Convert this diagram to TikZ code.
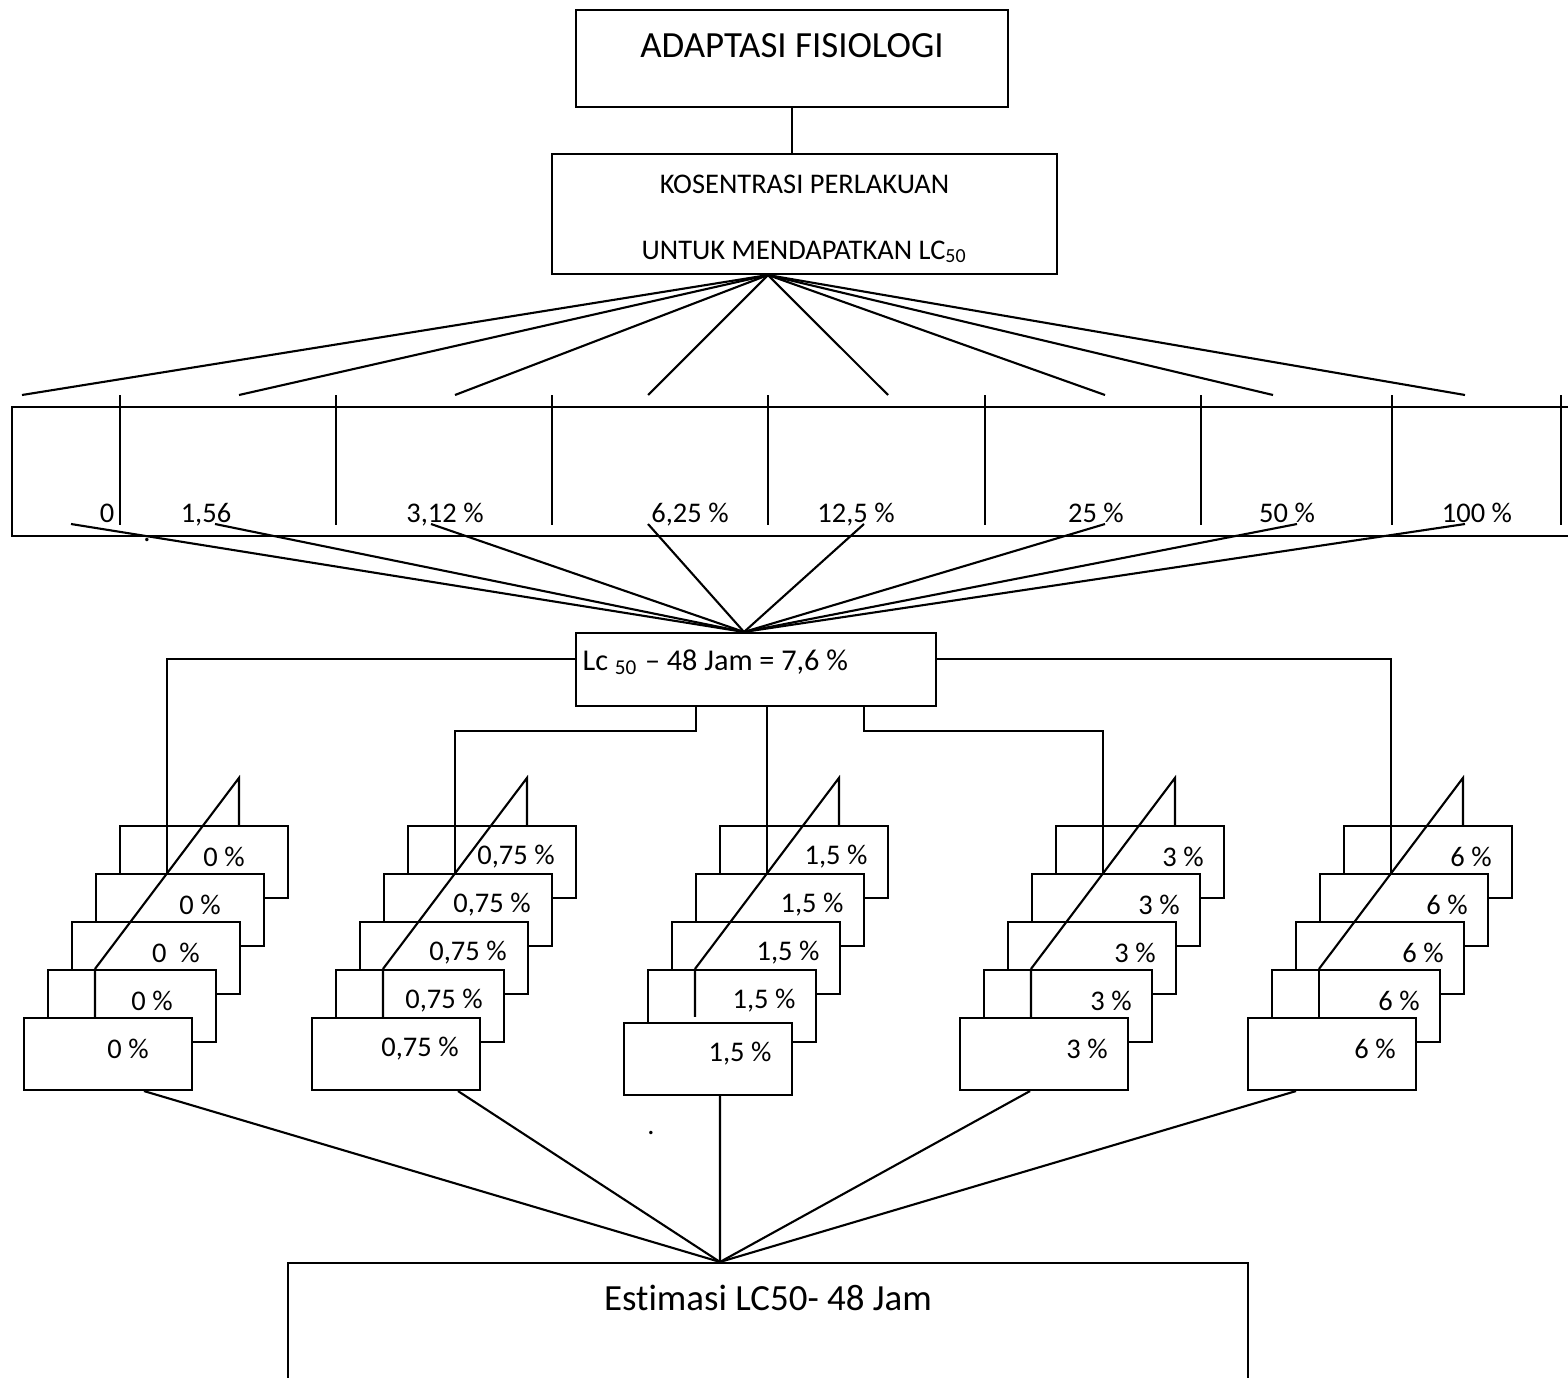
\documentclass[tikz,border=0pt]{standalone}
\usepackage{fontspec}
\setmainfont{Carlito}[Ligatures=NoCommon]
\usetikzlibrary{calc}

\begin{document}
\begin{tikzpicture}[every node/.style={font=\fontsize{8.1}{10}\selectfont}]
\tikzset{kotak/.style={draw,semithick,fill=white,inner sep=0pt},
  dosis/.style={kotak,minimum width=1.68cm,minimum height=0.72cm},
  teks/.style={inner sep=0pt,font=\fontsize{8.1}{10}\selectfont},
  besar/.style={inner sep=0pt,font=\fontsize{10.5}{12}\selectfont}}

\useasboundingbox (0,0) rectangle (15.68,-13.77);
\clip (0,0) rectangle (15.68,-13.77);

% kotak atas
\node[kotak,minimum width=4.32cm,minimum height=0.97cm,
      label={[besar,yshift=0.125cm]center:ADAPTASI FISIOLOGI}] (adp) at (7.92,-0.585) {};
\node[kotak,minimum width=5.05cm,minimum height=1.20cm,
      label={[teks,yshift=0.30cm]center:KOSENTRASI PERLAKUAN},
      label={[teks,yshift=-0.38cm]center:UNTUK MENDAPATKAN LC\textsubscript{50}}] (kos) at (8.045,-2.14) {};
\draw[semithick] (adp.south) -- (adp.south |- kos.north);

% pita konsentrasi
\node[kotak,minimum width=15.80cm,minimum height=1.29cm] (pita) at (8.02,-4.715) {};
\foreach \x in {1.20,3.36,5.52,7.68,9.85,12.01,13.92,15.61}
  \draw[semithick] (\x,-3.95) -- (\x,-5.25);
\node[teks,anchor=base] (p0)   at (1.07,-5.22)  {0};
\node[teks,anchor=base] (p156) at (2.06,-5.22)  {1,56};
\node[teks,anchor=base] (p312) at (4.45,-5.22)  {3,12 \%};
\node[teks,anchor=base] (p625) at (6.90,-5.22)  {6,25 \%};
\node[teks,anchor=base] (p125) at (8.56,-5.22)  {12,5 \%};
\node[teks,anchor=base] (p25)  at (10.96,-5.22) {25 \%};
\node[teks,anchor=base] (p50)  at (12.87,-5.22) {50 \%};
\node[teks,anchor=base] (p100) at (14.77,-5.22) {100 \%};
\node[teks] (titik1) at (1.47,-5.40) {.};

\coordinate (kp) at ($(kos.south)+(-0.365,0)$);
\foreach \x [count=\i] in {0.22,2.39,4.55,6.48,8.88,11.05,12.73,14.65} {
  \coordinate (ka\i) at (\x,-3.95);
  \draw[semithick] (kp) -- (ka\i);
}

% LC50
\node[kotak,minimum width=3.60cm,minimum height=0.73cm,
      label={[teks,anchor=west,xshift=0.07cm,yshift=0.07cm,font=\fontsize{8.6}{10}\selectfont]west:Lc \textsubscript{50} -- 48 Jam = 7,6 \%}] (lc) at (7.56,-6.695) {};
\coordinate (lcp) at ($(lc.north)+(-0.12,0)$);
\foreach \x [count=\i] in {0.71,2.15,4.31,6.48,8.64,11.05,12.97,14.65} {
  \coordinate (kb\i) at (\x,-5.24);
  \draw[semithick] (kb\i) -- (lcp);
}

% kelompok perlakuan
\foreach \k/\lbl in {4/0 \%,3/0 \%,2/0\ \ \%,1/0 \%,0/0 \%}
  \node[dosis,label={[teks,xshift=0.20cm,yshift=0.05cm]center:\lbl}] (a\k) at (1.08+0.24*\k,-10.54+0.48*\k) {};
\foreach \k in {4,3,2,1,0}
  \node[dosis,label={[teks,xshift=0.24cm,yshift=0.05cm]center:0,75 \%}] (b\k) at (3.96+0.24*\k,-10.54+0.48*\k) {};
\foreach \k in {4,3,2,1}
  \node[dosis,label={[teks,xshift=0.32cm,yshift=0.05cm]center:1,5 \%}] (c\k) at (7.08+0.24*\k,-10.54+0.48*\k) {};
\node[dosis,label={[teks,xshift=0.32cm,yshift=0.05cm]center:1,5 \%}] (c0) at (7.08,-10.59) {};
\foreach \k in {4,3,2,1,0}
  \node[dosis,label={[teks,xshift=0.43cm,yshift=0.05cm]center:3 \%}] (d\k) at (10.44+0.24*\k,-10.54+0.48*\k) {};
\foreach \k in {4,3,2,1,0}
  \node[dosis,label={[teks,xshift=0.43cm,yshift=0.05cm]center:6 \%}] (e\k) at (13.32+0.24*\k,-10.54+0.48*\k) {};

\foreach \g in {a,b,c,d,e} {
  \coordinate (u\g) at ($(\g4.north west)+(1.20,0.47)$);
  \coordinate (t\g) at ($(\g3.north west)+(0.72,0)$);
  \draw[semithick] ($(\g1.north west)+(0.48,0)$) -- (u\g) -- (u\g |- \g4.north);
}
\draw[semithick] ($(a0.north west)+(0.72,0)$) -- ($(a1.north west)+(0.48,0)$);
\draw[semithick] ($(b0.north west)+(0.72,0)$) -- ($(b1.north west)+(0.48,0)$);
\draw[semithick] ($(c0.north west)+(0.72,0.05)$) -- ($(c1.north west)+(0.48,0)$);
\draw[semithick] ($(d0.north west)+(0.72,0)$) -- ($(d1.north west)+(0.48,0)$);
\draw[semithick] ($(e0.north west)+(0.72,0)$) -- ($(e1.north west)+(0.48,0)$);

\draw[semithick] ($(lc.west)+(0,0.105)$) -| (ta);
\draw[semithick] ($(lc.south)+(-0.60,0)$) -- ++(0,-0.24) -| (tb);
\draw[semithick] (tc |- lc.south) -- (tc);
\draw[semithick] ($(lc.south)+(1.08,0)$) -- ++(0,-0.24) -| (td);
\draw[semithick] ($(lc.east)+(0,0.105)$) -| (te);

% estimasi
\node[kotak,minimum width=9.60cm,minimum height=2.0cm,
      label={[besar,yshift=0.65cm]center:Estimasi LC50- 48 Jam}] (est) at (7.68,-13.63) {};
\coordinate (ep) at ($(est.north)+(-0.48,0)$);
\draw[semithick] ($(a0.south)+(0.36,0)$) -- (ep);
\draw[semithick] ($(b0.south)+(0.62,0)$) -- (ep);
\draw[semithick] ($(c0.south)+(0.12,0)$) -- (ep);
\draw[semithick] ($(d0.south)+(-0.14,0)$) -- (ep);
\draw[semithick] ($(e0.south)+(-0.36,0)$) -- (ep);
\node[teks] (titik2) at (6.51,-11.33) {.};
\end{tikzpicture}
\end{document}
